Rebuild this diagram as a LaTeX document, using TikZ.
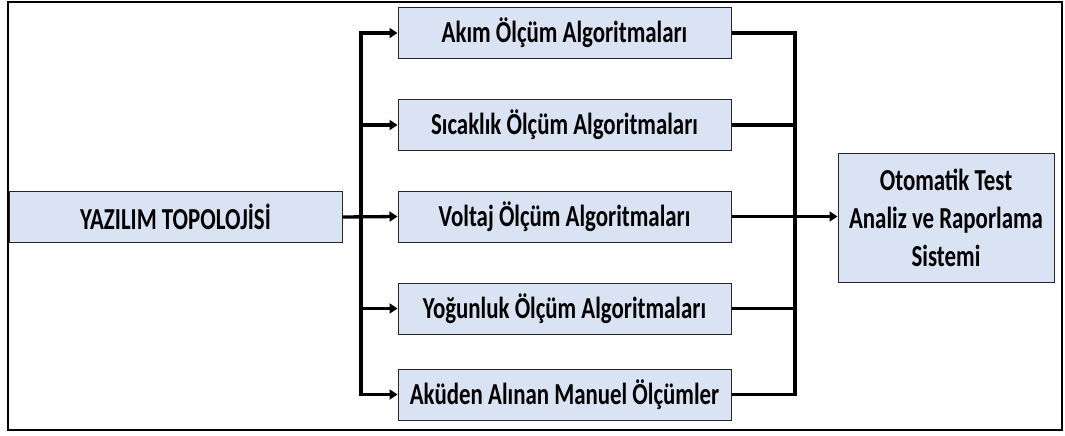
\documentclass[tikz,border=0pt]{standalone}
\usepackage{fontspec}
\setmainfont{Carlito}[FakeStretch=0.75]
\usetikzlibrary{arrows.meta}
\definecolor{boxfill}{HTML}{DAE3F3}
\begin{document}
\begin{tikzpicture}[x=1pt,y=-1pt,
  box/.style={draw=black!85, line width=1pt, fill=boxfill, minimum width=333pt, minimum height=51pt,
    font=\bfseries\fontsize{30.5}{36}\selectfont, align=center, inner sep=0pt},
  conn/.style={line width=3.3pt, line cap=rect},
  arr/.style={line width=3.3pt, -{Triangle[length=8pt,width=10pt]}}]
\useasboundingbox (0,0) rectangle (1065,436);
\draw[line width=2pt] (7.5,2) rectangle (1062,430);
\node[box] (yz) at (175.5,217) {YAZILIM TOPOLOJİSİ};
\node[box] (m1) at (564.5,33) {Akım Ölçüm Algoritmaları};
\node[box] (m2) at (564.5,125) {Sıcaklık Ölçüm Algoritmaları};
\node[box] (m3) at (564.5,216.5) {Voltaj Ölçüm Algoritmaları};
\node[box] (m4) at (564.5,308.5) {Yoğunluk Ölçüm Algoritmaları};
\node[box] (m5) at (564.5,394.5) {Aküden Alınan Manuel Ölçümler};
\node[box, minimum width=216pt, minimum height=129pt, font=\bfseries\fontsize{30.5}{38}\selectfont] (out) at (946,217.5) {Otomatik Test\\Analiz ve Raporlama\\Sistemi};
\coordinate (lx) at (361,0);
\coordinate (rx) at (795,0);
\draw[conn] (lx |- m1) -- (lx |- m5);
\draw[conn] (rx |- m1) -- (rx |- m5);
\foreach \n in {m1,m2,m4,m5} {
  \draw[arr] (lx |- \n.west) -- (\n.west);
  \draw[line width=3.3pt] (\n.east) -- (rx |- \n.east);
}
\draw[arr] (yz.east) -- (m3.west);
\draw[line width=3.3pt] (m3.east) -- (rx |- m3.east);
\draw[arr] (rx |- m3.east) -- (out.west |- m3.east);
\end{tikzpicture}
\end{document}
